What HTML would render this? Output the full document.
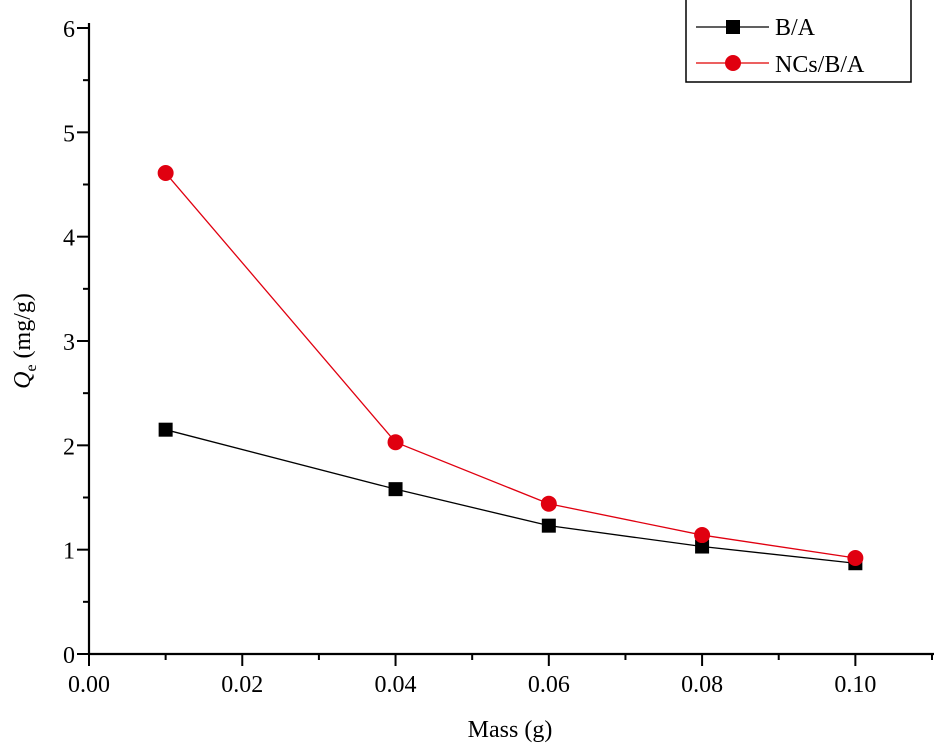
<!DOCTYPE html>
<html><head><meta charset="utf-8"><style>
body{margin:0;background:#fff}
svg{display:block;font-family:"Liberation Serif",serif}
</style></head><body>
<svg id="chart" width="934" height="747">
<g id="axes"></g>
<g id="series"></g>
<text x="510" y="737" font-size="24" text-anchor="middle">Mass (g)</text>
<text transform="translate(30,341) rotate(-90)" font-size="24" text-anchor="middle"><tspan font-style="italic">Q</tspan><tspan font-size="16" dy="6">e</tspan><tspan dy="-6"> (mg/g)</tspan></text>
<g>
<rect x="686" y="-2" width="225" height="84" fill="#fff" stroke="#000" stroke-width="1.5"/>
<g>
<line x1="696" y1="27" x2="769" y2="27" stroke="#000" stroke-width="1.2"/>
<rect x="726" y="20" width="14" height="14" fill="#000"/>
<text x="775" y="35" font-size="24">B/A</text></g>
<g>
<line x1="696" y1="63" x2="769" y2="63" stroke="#e00000" stroke-width="1.2"/>
<circle cx="733" cy="63" r="8" fill="#e00010"/>
<text x="775" y="72" font-size="24">NCs/B/A</text></g>
</g>
</svg>
<script>
const masses=[0.01,0.04,0.06,0.08,0.10];
const baValues=[2.15,1.58,1.23,1.03,0.87];
const ncsValues=[4.61,2.03,1.44,1.14,0.92];
const xTicks=[0,0.02,0.04,0.06,0.08,0.10];
const xTickLabels=["0.00","0.02","0.04","0.06","0.08","0.10"];
const yTicks=[0,1,2,3,4,5,6];
const NS="http://www.w3.org/2000/svg";
const X0=89,XR=932,XMAX=0.11,Y0=654,YT=28,YMAX=6;
const xs=v=>X0+(XR-X0)*v/XMAX;
const ys=v=>Y0-(Y0-YT)*v/YMAX;
function mk(t,a,p){const e=document.createElementNS(NS,t);for(const k in a)e.setAttribute(k,a[k]);p.appendChild(e);return e;}
const ax=document.getElementById('axes');
let l=mk('line',{x1:X0,y1:Y0,x2:XR+2,y2:Y0,stroke:'#000','stroke-width':2.2},ax);


l=mk('line',{x1:X0,y1:Y0+1,x2:X0,y2:YT-5,stroke:'#000','stroke-width':2.2},ax);


xTicks.forEach((v,i)=>{
 const x=xs(v);
 mk('line',{x1:x,y1:Y0,x2:x,y2:Y0+12,stroke:'#000','stroke-width':2},ax);
 const t=mk('text',{x:x,y:Y0+38,'font-size':24,'text-anchor':'middle'},ax);
 t.textContent=xTickLabels[i];
 
 
});
for(let i=0;i<xTicks.length;i++){const x=xs(xTicks[i]+0.01);mk('line',{x1:x,y1:Y0,x2:x,y2:Y0+6,stroke:'#000','stroke-width':2},ax);}
yTicks.forEach((v,i)=>{
 const y=ys(v);
 mk('line',{x1:X0-12,y1:y,x2:X0,y2:y,stroke:'#000','stroke-width':2},ax);
 if(v<YMAX) mk('line',{x1:X0-6,y1:ys(v+0.5),x2:X0,y2:ys(v+0.5),stroke:'#000','stroke-width':2},ax);
 const t=mk('text',{x:X0-14,y:y+9,'font-size':24,'text-anchor':'end'},ax);
 t.textContent=String(v);
 
 
});
const sg=document.getElementById('series');
function draw(vals,color,shape,name){
 const pl=mk('polyline',{points:masses.map((m,i)=>xs(m)+','+ys(vals[i])).join(' '),fill:'none',stroke:color,'stroke-width':1.3},sg);
 
 
 masses.forEach((m,i)=>{
  let e;
  if(shape==='sq') e=mk('rect',{x:xs(m)-7,y:ys(vals[i])-7,width:14,height:14,fill:color},sg);
  else e=mk('circle',{cx:xs(m),cy:ys(vals[i]),r:8,fill:color},sg);
  
  
 });
}
draw(baValues,'#000','sq','ba');
draw(ncsValues,'#e00010','ci','ncs');
</script>
</body></html>
